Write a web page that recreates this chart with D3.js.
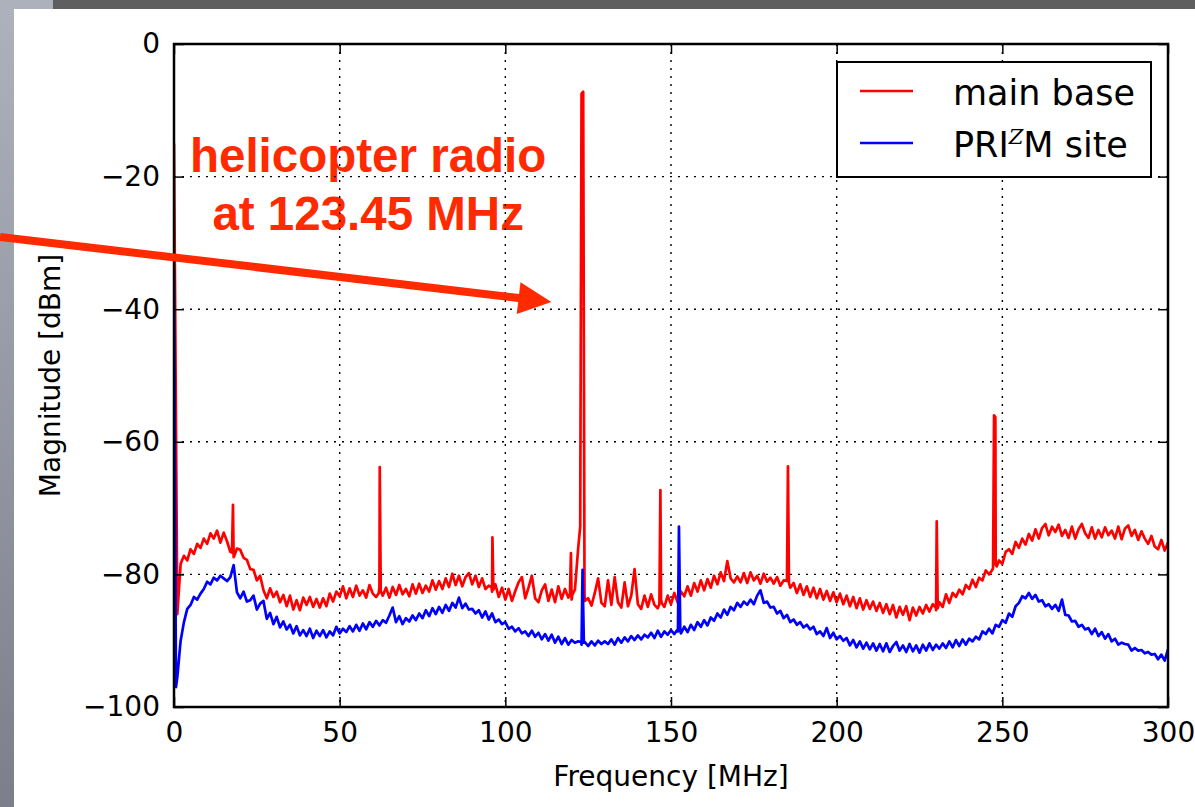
<!DOCTYPE html>
<html>
<head>
<meta charset="utf-8">
<script src="https://cdn.jsdelivr.net/npm/d3@7"></script>
<style>
  body { margin: 0; background: #fff; }
  text { font-family: "DejaVu Sans", sans-serif; }
</style>
</head>
<body>
<div id="chart"></div>
<script>
// Spectrum readings, one value per MHz from 0 to 300 MHz
const freqStep = 1;

const mainBase = [
  -15, -86, -78.4, -77.2, -77.9, -76.2, -76.9, -75.4, -76, -74.6,
  -75.4, -73.8, -74.6, -73.4, -75.2, -73.7, -75, -76.6, -77.4, -76.1,
  -76.3, -77.5, -77.8, -79.2, -79.3, -80.9, -80.2, -82.4, -83.6, -82.1,
  -83.4, -82.6, -84.2, -83.1, -84.8, -83.2, -85.3, -83.9, -85.4, -83.5,
  -84.6, -83.4, -84.9, -83.7, -85, -83.6, -84.8, -82.9, -84.1, -82.6,
  -83.3, -81.8, -83.6, -82.1, -83.4, -81.7, -83.2, -82.4, -83.5, -81.6,
  -82.9, -83.4, -81.8, -83.2, -82, -83.5, -81.9, -83.1, -81.6, -83,
  -82.2, -83.3, -81.5, -82.9, -81.4, -82.8, -81.7, -82.6, -80.9, -82.3,
  -81, -82.2, -80.6, -81.9, -79.9, -81.6, -80.2, -81.8, -80.4, -79.8,
  -81.5, -80.2, -81.9, -80.6, -82.2, -81.7, -82.6, -81.5, -83.4, -82,
  -83.8, -82.2, -84, -82.5, -81.2, -80.4, -83.6, -82, -80.2, -83.6,
  -84.2, -82.4, -81.5, -84, -82.3, -84.2, -81.8, -83.7, -82.2, -83.5,
  -83.8, -82.3, -76, -7.5, -84, -83.6, -84.7, -82.8, -80.6, -84.3,
  -84.8, -80.9, -84.6, -80.4, -84.2, -85, -81.2, -84.8, -83.2, -79.2,
  -84.5, -85.2, -83.2, -84.9, -83, -84.6, -85.1, -83.8, -84.9, -83.2,
  -84.5, -82.8, -84.2, -82.6, -83.3, -81.8, -83.2, -81.3, -82.6, -80.9,
  -82.4, -80.7, -82, -80.2, -81.5, -79.7, -81, -78, -80.6, -81.2,
  -80.3, -81.2, -79.8, -81.3, -79.7, -80.9, -80.2, -81.4, -79.9, -81.1,
  -80.5, -81.4, -80.4, -81.7, -80.9, -81.1, -82, -81.3, -82.8, -81.5,
  -83.1, -81.8, -83.4, -82, -83.6, -82.2, -83.8, -82.5, -84, -82.7,
  -84.2, -82.9, -84.5, -83.2, -84.8, -83.4, -85.1, -83.6, -85.3, -83.9,
  -85.2, -84.1, -85.5, -84.3, -85.8, -84.5, -86, -84.6, -86.5, -84.9,
  -86.1, -84.8, -86.9, -85, -86.2, -84.9, -85.9, -84.6, -85.6, -84.5,
  -85.4, -84.2, -84.9, -83, -84.3, -82.8, -83.4, -82.3, -83, -81.6,
  -82.2, -80.8, -81.9, -80.5, -80.9, -79.4, -80, -79.3, -78.5, -77.9,
  -78.4, -76.6, -76.2, -76.9, -75.1, -76, -74.6, -75.5, -73.9, -74.9,
  -73.2, -74.6, -73, -72.4, -74.1, -72.8, -73.6, -72.5, -74.2, -73.3,
  -74.5, -72.8, -74.6, -73.2, -72.4, -73.8, -74.5, -72.9, -74.6, -73.3,
  -74.4, -72.9, -74.1, -73.4, -74.6, -72.8, -74.7, -73.1, -72.6, -74.2,
  -73.3, -74.8, -73.5, -74.6, -75.4, -74.2, -75.8, -76.2, -74.8, -76.4,
  -75.2
];

// narrow lines in the main base spectrum: [MHz, dBm]
const mainBaseSpikes = [
  [17.5, -76.7], [17.8, -69.5], [18.2, -77.2],
  [61.8, -82.8], [62.1, -63.8], [62.4, -82.5],
  [95.8, -81.9], [96.1, -74.4], [96.4, -82.3],
  [119.5, -83], [119.8, -76.8], [120.2, -83.1],
  [122.6, -72.8], [123.5, -7.2], [123.9, -83],
  [146.5, -84.5], [146.8, -67.3], [147.2, -84.3],
  [185, -81], [185.3, -63.7], [185.6, -81.3],
  [229.9, -85], [230.2, -72], [230.5, -85.1],
  [247.2, -79], [247.5, -56], [247.9, -56.3], [248.3, -78.8]
];

const prizmSite = [
  -34, -95.5, -90, -87.2, -85.2, -84.6, -83.4, -83.8, -82.9, -82.2,
  -81.1, -81.5, -80.5, -80.9, -80.2, -80.6, -81, -80.4, -78.6, -82.7,
  -83.6, -82.6, -84.1, -83.9, -83.2, -85.3, -84.4, -84, -86.7, -85.8,
  -87.5, -86.4, -88, -87.1, -88.3, -87.6, -88.9, -87.8, -89.2, -88.4,
  -89.3, -88.2, -89.6, -88.5, -89.3, -88.4, -89.5, -88.6, -89.2, -87.9,
  -88.9, -88.2, -88.7, -87.8, -88.6, -87.6, -88.5, -87.4, -88.3, -87.2,
  -87.9, -87, -87.7, -86.9, -87.3, -86.2, -85, -87.2, -86.3, -87.5,
  -86.6, -87.1, -86.2, -86.9, -85.9, -86.6, -85.4, -86.3, -85.1, -86,
  -84.9, -85.8, -84.6, -85.5, -84.3, -85, -83.5, -85.1, -84.4, -85.3,
  -85.2, -85.9, -85.4, -86.5, -85.6, -86.8, -85.9, -87.2, -86.8, -87.5,
  -87.2, -88.2, -87.9, -88.6, -88.1, -88.9, -88.6, -89.3, -88.5, -89.4,
  -88.8, -89.8, -89, -90, -89.1, -90.3, -89.4, -90.5, -89.6, -90.6,
  -89.9, -90.3, -90.1, -90.6, -90.2, -90.8, -90.1, -90.7, -90, -90.5,
  -90.1, -90.5, -89.8, -90.6, -89.6, -90.3, -89.5, -90.1, -89.3, -89.9,
  -89.2, -89.8, -89.1, -89.5, -88.8, -89.6, -88.5, -89.4, -88.6, -89.1,
  -88.4, -89, -88.3, -88.9, -87.9, -88.7, -87.6, -88.4, -87.2, -87.9,
  -86.9, -87.7, -86.5, -87, -85.9, -86.5, -85.3, -86.1, -84.9, -85.4,
  -84.3, -84.9, -84.1, -84.6, -83.8, -84.5, -83.2, -82.4, -84.3, -84.1,
  -85, -84.9, -85.9, -85.5, -86.6, -86.1, -87.2, -86.8, -87.6, -87.2,
  -88, -87.6, -88.3, -87.9, -89, -88.6, -89.3, -88.1, -89.6, -88.8,
  -89.8, -89.3, -90, -89.6, -90.7, -89.9, -91, -90.1, -91.2, -90.3,
  -91.3, -90.4, -91.5, -90.5, -91.6, -90.4, -91.7, -90.8, -90.2, -91.5,
  -90.7, -91.7, -90.5, -91.6, -90.7, -91.8, -90.6, -91.5, -90.4, -91.4,
  -90.6, -91.2, -90.4, -91.1, -90.1, -91, -89.9, -90.8, -89.8, -90.6,
  -89.7, -90.1, -89.4, -89.8, -88.6, -89, -88.2, -88.9, -87.6, -87.9,
  -86.9, -87.3, -85.9, -86.4, -84.8, -84.3, -83.3, -83.6, -82.8, -83.7,
  -83.1, -84.1, -83.9, -84.8, -84.5, -85.2, -84.6, -85.5, -83.8, -86.1,
  -86.2, -87.1, -87, -87.9, -87.6, -88.3, -88.1, -89, -88.2, -89.3,
  -88.7, -89.7, -89, -90.1, -89.7, -90.6, -90.3, -90.5, -90.6, -91.5,
  -91.1, -91.5, -91.4, -91.9, -91.7, -92.1, -92, -92.8, -92.1, -93,
  -91.3
];

const prizmSiteSpikes = [
  [0.6, -97],
  [122.9, -90.2], [123.3, -79.3], [123.7, -90.3],
  [152.1, -88.6], [152.4, -72.8], [152.8, -88.4]
];

const xTicks = [0, 50, 100, 150, 200, 250, 300];
const yTicks = [0, -20, -40, -60, -80, -100];

// merge regular samples with the spike points
function buildSeries(values, spikes) {
  const m = new Map();
  values.forEach((v, i) => m.set(i * freqStep, v));
  spikes.forEach(([f, v]) => m.set(f, v));
  return Array.from(m, ([f, v]) => ({ f, v })).sort((a, b) => a.f - b.f);
}

const series = [
  { name: "main base", color: "#ff0000", data: buildSeries(mainBase, mainBaseSpikes) },
  { name: "PRIZM site", color: "#0000ff", data: buildSeries(prizmSite, prizmSiteSpikes) }
];

const width = 1195;
const height = 807;
const plot = { left: 174, top: 44, right: 1168, bottom: 707 };

const x = d3.scaleLinear().domain([0, 300]).range([plot.left, plot.right]);
const y = d3.scaleLinear().domain([-100, 0]).range([plot.bottom, plot.top]);

const svg = d3.select("#chart")
  .append("svg")
  .attr("width", width)
  .attr("height", height);

// slide frame behind the figure
const grad = svg.append("defs").append("linearGradient")
  .attr("id", "strip").attr("x1", 0).attr("y1", 0).attr("x2", 0).attr("y2", 1);
grad.append("stop").attr("offset", "0%").attr("stop-color", "#aeb2bd");
grad.append("stop").attr("offset", "100%").attr("stop-color", "#7c7f89");

svg.append("rect").attr("width", width).attr("height", height).attr("fill", "#fff");
svg.append("rect").attr("x", 0).attr("y", 0).attr("width", 14).attr("height", height).attr("fill", "url(#strip)");
svg.append("rect").attr("x", 0).attr("y", 0).attr("width", 53).attr("height", 9).attr("fill", "#adb1bc");
svg.append("rect").attr("x", 53).attr("y", 0).attr("width", width - 53).attr("height", 9).attr("fill", "#5f5f5f");

svg.append("clipPath").attr("id", "clip")
  .append("rect")
  .attr("x", plot.left).attr("y", plot.top)
  .attr("width", plot.right - plot.left).attr("height", plot.bottom - plot.top);

// annotation text
const note = svg.append("text")
  .attr("text-anchor", "middle")
  .attr("fill", "#ff2a00")
  .style("font-family", "'Liberation Sans', Arial, sans-serif")
  .style("font-weight", "bold")
  .style("font-size", "47.5px");
note.append("tspan").attr("x", x(58.6)).attr("y", y(-19.3)).text("helicopter radio");
note.append("tspan").attr("x", x(58.6)).attr("y", y(-28.05)).text("at 123.45 MHz");

// dotted grid
const grid = svg.append("g")
  .attr("stroke", "#000")
  .attr("stroke-width", 1.4)
  .attr("stroke-dasharray", "2,6");
grid.selectAll(".gx")
  .data(xTicks.slice(1, -1))
  .enter().append("line")
  .attr("x1", d => x(d)).attr("x2", d => x(d))
  .attr("y1", plot.top).attr("y2", plot.bottom);
grid.selectAll(".gy")
  .data(yTicks.slice(1, -1))
  .enter().append("line")
  .attr("y1", d => y(d)).attr("y2", d => y(d))
  .attr("x1", plot.left).attr("x2", plot.right);

// spectra
const line = d3.line().x(d => x(d.f)).y(d => y(d.v));
svg.append("g")
  .attr("clip-path", "url(#clip)")
  .selectAll("path")
  .data(series)
  .enter().append("path")
  .attr("d", d => line(d.data))
  .attr("fill", "none")
  .attr("stroke", d => d.color)
  .attr("stroke-width", 2.7)
  .attr("stroke-linejoin", "round");

// axes with inward ticks on all four sides
function styleAxis(g) {
  g.select(".domain").remove();
  g.selectAll(".tick line").attr("stroke", "#000").attr("stroke-width", 1.5);
  g.selectAll(".tick text")
    .attr("fill", "#000")
    .style("font-family", "'DejaVu Sans', sans-serif")
    .style("font-size", "28px");
}

svg.append("g")
  .attr("transform", `translate(0,${plot.bottom})`)
  .call(d3.axisBottom(x).tickValues(xTicks).tickSizeInner(-10).tickSizeOuter(0).tickPadding(15))
  .call(styleAxis);
svg.append("g")
  .attr("transform", `translate(${plot.left},0)`)
  .call(d3.axisLeft(y).tickValues(yTicks).tickSizeInner(-10).tickSizeOuter(0).tickPadding(14))
  .call(styleAxis);
svg.append("g")
  .attr("transform", `translate(0,${plot.top})`)
  .call(d3.axisTop(x).tickValues(xTicks).tickSizeInner(-10).tickSizeOuter(0).tickFormat(""))
  .call(styleAxis);
svg.append("g")
  .attr("transform", `translate(${plot.right},0)`)
  .call(d3.axisRight(y).tickValues(yTicks).tickSizeInner(-10).tickSizeOuter(0).tickFormat(""))
  .call(styleAxis);

svg.append("rect")
  .attr("x", plot.left).attr("y", plot.top)
  .attr("width", plot.right - plot.left).attr("height", plot.bottom - plot.top)
  .attr("fill", "none")
  .attr("stroke", "#000")
  .attr("stroke-width", 2.5);

// axis titles
svg.append("text")
  .attr("x", (plot.left + plot.right) / 2)
  .attr("y", 786)
  .attr("text-anchor", "middle")
  .style("font-size", "28px")
  .text("Frequency [MHz]");
svg.append("text")
  .attr("transform", `translate(60,${(plot.top + plot.bottom) / 2}) rotate(-90)`)
  .attr("text-anchor", "middle")
  .style("font-size", "28px")
  .text("Magnitude [dBm]");

// legend
const legend = svg.append("g");
legend.append("rect")
  .attr("x", 837).attr("y", 62)
  .attr("width", 314).attr("height", 115)
  .attr("fill", "#fff")
  .attr("stroke", "#000")
  .attr("stroke-width", 2);
series.forEach(function(s, i) {
  const ly = 91 + i * 52;
  legend.append("line")
    .attr("x1", 860).attr("x2", 913)
    .attr("y1", ly).attr("y2", ly)
    .attr("stroke", s.color)
    .attr("stroke-width", 2.5);
  const t = legend.append("text")
    .attr("x", 953).attr("y", ly + 14)
    .style("font-size", "35px");
  if (i === 0) {
    t.text(s.name);
  } else {
    t.append("tspan").text("PRI");
    t.append("tspan")
      .attr("dy", -13)
      .style("font-family", "'DejaVu Serif', serif")
      .style("font-style", "italic")
      .style("font-size", "21px")
      .text("Z");
    t.append("tspan").attr("dy", 13).text("M site");
  }
});

// arrow pointing at the spike
const arrowFrom = [x(-52.5), y(-29.1)];
const arrowTo = [x(113.9), y(-38.9)];
const dx = arrowTo[0] - arrowFrom[0];
const dy = arrowTo[1] - arrowFrom[1];
const len = Math.sqrt(dx * dx + dy * dy);
const ux = dx / len, uy = dy / len;
const headLen = 33, headHalf = 16;
const base = [arrowTo[0] - ux * headLen, arrowTo[1] - uy * headLen];
svg.append("line")
  .attr("x1", arrowFrom[0]).attr("y1", arrowFrom[1])
  .attr("x2", base[0] + ux * 2).attr("y2", base[1] + uy * 2)
  .attr("stroke", "#ff2a00")
  .attr("stroke-width", 8);
svg.append("polygon")
  .attr("points", [
    arrowTo,
    [base[0] - uy * headHalf, base[1] + ux * headHalf],
    [base[0] + uy * headHalf, base[1] - ux * headHalf]
  ].map(p => p.join(",")).join(" "))
  .attr("fill", "#ff2a00");
</script>
</body>
</html>
